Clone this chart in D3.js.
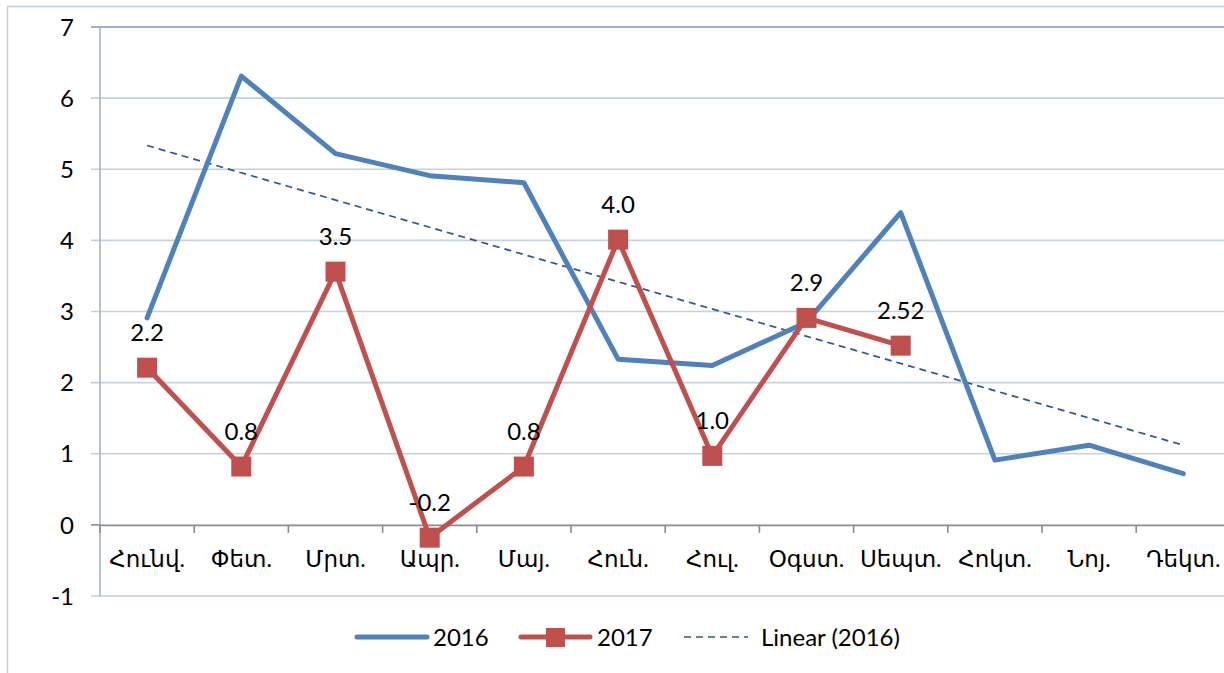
<!DOCTYPE html>
<html><head><meta charset="utf-8">
<script src="https://cdn.jsdelivr.net/npm/d3@7"></script>
<style>
html,body{margin:0;padding:0;background:#fff;overflow:hidden}
svg{display:block}
text{font-family:Lato,"DejaVu Sans",sans-serif;fill:#000}
</style></head>
<body>
<svg id="chart" width="1224" height="673"></svg>
<script>
const months = ["Հունվ.","Փետ.","Մրտ.","Ապր.","Մայ.","Հուն.","Հուլ.","Օգստ.","Սեպտ.","Հոկտ.","Նոյ.","Դեկտ."];
const values2016 = [2.91,6.31,5.22,4.91,4.81,2.33,2.24,2.85,4.39,0.91,1.12,0.72];
const values2017 = [2.21,0.82,3.56,-0.18,0.82,4.01,0.97,2.91,2.52];
const labels2017 = ["2.2","0.8","3.5","-0.2","0.8","4.0","1.0","2.9","2.52"];
const yTicks = [-1,0,1,2,3,4,5,6,7];
const legendNames = ["2016","2017","Linear (2016)"];

const svg = d3.select("#chart");
const L = 100, R = 1230.4, T = 27, B = 596;
const x = d3.scaleBand().domain(months).range([L, R]);
const y = d3.scaleLinear().domain([-1, 7]).range([B, T]);
const cx = i => x(months[i]) + x.bandwidth() / 2;

// outer border
svg.append("rect").attr("x", 7.5).attr("y", 6.5).attr("width", 1300).attr("height", 800)
  .attr("fill", "none").attr("stroke", "#c4cfdc").attr("stroke-width", 1.5);

// gridlines
svg.append("g").selectAll("line").data(yTicks.filter(t => t !== 0)).join("line")
  .attr("x1", 91).attr("x2", R).attr("y1", d => y(d)).attr("y2", d => y(d))
  .attr("stroke", d => (d === 7 ? "#9fb2c9" : "#c5d1de")).attr("stroke-width", d => (d === 7 ? 2 : 1.6));

// left axis line
svg.append("line").attr("x1", L).attr("x2", L).attr("y1", T).attr("y2", B)
  .attr("stroke", "#a2b4cb").attr("stroke-width", 1.6);

// y labels
svg.append("g").selectAll("text").data(yTicks).join("text")
  .attr("x", 74).attr("y", d => y(d)).attr("dy", "0.36em").attr("text-anchor", "end")
  .style("font-size", "24px").text(d => d);

// zero axis with ticks
const xAxis = d3.axisBottom(x).tickSize(0).tickFormat("");
const gx = svg.append("g").attr("transform", `translate(0,${y(0)})`).call(xAxis);
gx.select(".domain").attr("stroke", "#8c8c8c").attr("stroke-width", 1.6);
svg.append("line").attr("x1", 91).attr("x2", L).attr("y1", y(0)).attr("y2", y(0))
  .attr("stroke", "#8c8c8c").attr("stroke-width", 1.6);
const bounds = d3.range(months.length + 1).map(i => L + i * x.step());
svg.append("g").selectAll("line").data(bounds).join("line")
  .attr("x1", d => d).attr("x2", d => d).attr("y1", y(0)).attr("y2", y(0) + 8)
  .attr("stroke", "#8c8c8c").attr("stroke-width", 1.6);

// category labels
svg.append("g").selectAll("text").data(months).join("text")
  .attr("x", (d, i) => cx(i)).attr("y", 567).attr("text-anchor", "middle")
  .style("font-size", "23px").text(d => d);

// trend line (least squares on 2016)
const xs = values2016.map((d, i) => i + 1);
const mx = d3.mean(xs), my = d3.mean(values2016);
const slope = d3.sum(xs.map((xi, i) => (xi - mx) * (values2016[i] - my))) / d3.sum(xs.map(xi => (xi - mx) ** 2));
const icpt = my - slope * mx;
svg.append("line")
  .attr("x1", cx(0)).attr("y1", y(icpt + slope * 1))
  .attr("x2", cx(11)).attr("y2", y(icpt + slope * 12))
  .attr("stroke", "#2f5690").attr("stroke-width", 1.7).attr("stroke-dasharray", "7,5");

// 2016 line
const line = d3.line().x((d, i) => cx(i)).y(d => y(d));
svg.append("path").datum(values2016).attr("d", line)
  .attr("fill", "none").attr("stroke", "#4f81bd").attr("stroke-width", 5)
  .attr("stroke-linejoin", "round").attr("stroke-linecap", "round");

// 2017 line
svg.append("path").datum(values2017).attr("d", line)
  .attr("fill", "none").attr("stroke", "#c0504d").attr("stroke-width", 5)
  .attr("stroke-linejoin", "round");
svg.append("g").selectAll("rect").data(values2017).join("rect")
  .attr("x", (d, i) => cx(i) - 10).attr("y", d => y(d) - 10)
  .attr("width", 20).attr("height", 20).attr("fill", "#c0504d");

// data labels
svg.append("g").selectAll("text").data(values2017).join("text")
  .attr("x", (d, i) => cx(i)).attr("y", d => y(d) - 27).attr("text-anchor", "middle")
  .style("font-size", "24px").text((d, i) => labels2017[i]);

// legend
const lg = svg.append("g");
const ly = 637;
lg.append("line").attr("x1", 357).attr("x2", 427).attr("y1", ly).attr("y2", ly)
  .attr("stroke", "#4f81bd").attr("stroke-width", 5).attr("stroke-linecap", "round");
lg.append("text").attr("x", 433).attr("y", ly).attr("dy", "0.36em").style("font-size", "24px").text(legendNames[0]);
lg.append("line").attr("x1", 521).attr("x2", 590).attr("y1", ly).attr("y2", ly)
  .attr("stroke", "#c0504d").attr("stroke-width", 5).attr("stroke-linecap", "round");
lg.append("rect").attr("x", 546).attr("y", ly - 9).attr("width", 19).attr("height", 19).attr("fill", "#c0504d");
lg.append("text").attr("x", 597).attr("y", ly).attr("dy", "0.36em").style("font-size", "24px").text(legendNames[1]);
lg.append("line").attr("x1", 684).attr("x2", 748).attr("y1", ly).attr("y2", ly)
  .attr("stroke", "#2f5690").attr("stroke-width", 1.7).attr("stroke-dasharray", "7,5");
lg.append("text").attr("x", 761).attr("y", ly).attr("dy", "0.36em").style("font-size", "24px").text(legendNames[2]);
</script>
</body></html>
